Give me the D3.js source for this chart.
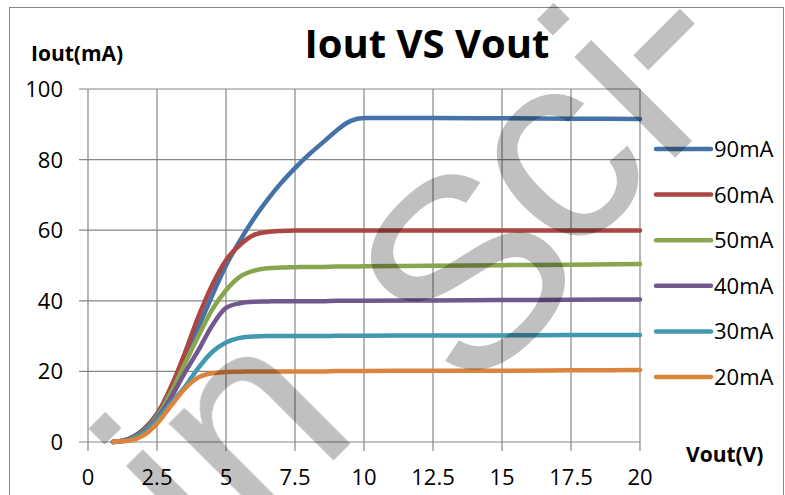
<!DOCTYPE html>
<html>
<head>
<meta charset="utf-8">
<script src="https://cdn.jsdelivr.net/npm/d3@7"></script>
<style>
  body { margin: 0; background: #fff; }
  text { font-family: "Open Sans", Lato, sans-serif; fill: #000; }
</style>
</head>
<body>
<div id="chart"></div>
<script>
const width = 785;
const height = 495;
const margins = { top: 89, bottom: 53, left: 88, right: 145 };

// DATA
const voltages = [0.9, 1.5, 2, 2.5, 3, 3.5, 4, 4.5, 5, 5.5, 6, 6.5, 7, 7.5, 8, 8.5, 9, 9.5, 10, 12.5, 15, 17.5, 20];
const seriesNames = ["90mA", "60mA", "50mA", "40mA", "30mA", "20mA"];
const seriesColors = ["#4572A7", "#AA4643", "#89A54E", "#71588F", "#4198AF", "#DB843D"];
const current90 = [0, 1, 3.5, 8, 15, 23.5, 32.5, 41.5, 50, 57, 63.2, 68.6, 73.4, 77.6, 81.4, 84.8, 88.2, 90.9, 91.8, 91.8, 91.7, 91.6, 91.5];
const current60 = [0, 1, 3.3, 7.7, 15.5, 25, 35.5, 44.5, 51.5, 55.8, 58.6, 59.5, 59.8, 59.9, 59.9, 59.9, 59.9, 59.9, 59.9, 59.9, 59.9, 59.9, 59.9];
const current50 = [0, 0.8, 3, 7.2, 14, 22, 30, 37.5, 43, 46.8, 48.5, 49.2, 49.4, 49.5, 49.6, 49.6, 49.7, 49.7, 49.8, 49.9, 50.1, 50.2, 50.4];
const current40 = [0, 0.7, 2.8, 6.7, 12.5, 19.5, 26, 33, 38, 39.3, 39.7, 39.8, 39.9, 39.9, 39.9, 39.9, 40, 40, 40, 40.1, 40.2, 40.3, 40.4];
const current30 = [0, 0.6, 2.5, 6.2, 11, 15.5, 21, 25.5, 28.2, 29.5, 29.9, 30, 30, 30, 30, 30, 30.1, 30.1, 30.1, 30.2, 30.2, 30.3, 30.3];
const current20 = [0, 0.4, 1.8, 5.2, 10.2, 15, 18.3, 19.5, 19.8, 19.9, 20, 20, 20, 20, 20, 20, 20.1, 20.1, 20.1, 20.2, 20.2, 20.3, 20.4];
const seriesValues = [current90, current60, current50, current40, current30, current20];
const xTicks = [0, 2.5, 5, 7.5, 10, 12.5, 15, 17.5, 20];
const yTicks = [0, 20, 40, 60, 80, 100];

const series = seriesNames.map((name, i) => ({
  name: name,
  color: seriesColors[i],
  points: voltages.map((v, j) => ({ v: v, i: seriesValues[i][j] })),
}));

// SCALES
const xScale = d3.scaleLinear().domain([0, 20]).range([margins.left, width - margins.right]);
const yScale = d3.scaleLinear().domain([0, 100]).range([height - margins.bottom, margins.top]);

const svg = d3
  .select("#chart")
  .append("svg")
  .attr("width", width)
  .attr("height", height);

// OUTER BORDER
svg
  .append("rect")
  .attr("x", 9.5)
  .attr("y", 7.5)
  .attr("width", 774)
  .attr("height", 520)
  .attr("fill", "none")
  .attr("stroke", "#868686");

// GRID + AXES
const grid = svg.append("g").attr("stroke", "#868686").attr("stroke-width", 1.2);

grid
  .selectAll("line.h")
  .data(yTicks)
  .enter()
  .append("line")
  .attr("x1", margins.left - 9)
  .attr("x2", width - margins.right)
  .attr("y1", (d) => yScale(d))
  .attr("y2", (d) => yScale(d));

grid
  .selectAll("line.v")
  .data(xTicks)
  .enter()
  .append("line")
  .attr("x1", (d) => xScale(d))
  .attr("x2", (d) => xScale(d))
  .attr("y1", yScale(100))
  .attr("y2", yScale(0) + 9);

svg
  .selectAll("text.y-label")
  .data(yTicks)
  .enter()
  .append("text")
  .attr("class", "y-label")
  .attr("x", margins.left - 25)
  .attr("y", (d) => yScale(d))
  .attr("dy", "0.36em")
  .attr("text-anchor", "end")
  .style("font-size", "22px")
  .text((d) => d);

svg
  .selectAll("text.x-label")
  .data(xTicks)
  .enter()
  .append("text")
  .attr("class", "x-label")
  .attr("x", (d) => xScale(d))
  .attr("y", 485)
  .attr("text-anchor", "middle")
  .style("font-size", "22px")
  .text((d) => d);

// LINES
const lineGenerator = d3
  .line()
  .x((d) => xScale(d.v))
  .y((d) => yScale(d.i))
  .curve(d3.curveMonotoneX);

svg
  .append("g")
  .selectAll("path")
  .data(series)
  .enter()
  .append("path")
  .attr("d", (d) => lineGenerator(d.points))
  .attr("fill", "none")
  .attr("stroke", (d) => d.color)
  .attr("stroke-width", 4.5)
  .attr("stroke-linecap", "round")
  .attr("stroke-linejoin", "round");

// LEGEND
const legend = svg
  .append("g")
  .selectAll("g")
  .data(series)
  .enter()
  .append("g")
  .attr("transform", (d, i) => `translate(656,${149 + i * 45.6})`);

legend
  .append("line")
  .attr("x1", 0)
  .attr("x2", 55)
  .attr("stroke", (d) => d.color)
  .attr("stroke-width", 4.5)
  .attr("stroke-linecap", "round");

legend
  .append("text")
  .attr("x", 58)
  .attr("dy", "0.36em")
  .style("font-size", "22px")
  .text((d) => d.name);

// TITLES
svg
  .append("text")
  .attr("x", 427)
  .attr("y", 58)
  .attr("text-anchor", "middle")
  .style("font-size", "40px")
  .style("font-weight", "bold")
  .text("Iout VS Vout");

svg
  .append("text")
  .attr("x", 31)
  .attr("y", 61)
  .style("font-size", "21px")
  .style("font-weight", "bold")
  .text("Iout(mA)");

svg
  .append("text")
  .attr("x", 686)
  .attr("y", 462)
  .style("font-size", "21px")
  .style("font-weight", "bold")
  .text("Vout(V)");

// WATERMARK (pieces along one diagonal)
const watermark = svg
  .append("g")
  .style("mix-blend-mode", "multiply");

[
  { t: "hin", x: 108, y: 686 },
  { t: "S", x: 468, y: 401 },
  { t: "ci", x: 567, y: 266 },
  { t: "-", x: 683, y: 122 },
].forEach((p) => {
  watermark
    .append("text")
    .attr("transform", `translate(${p.x},${p.y}) rotate(-45)`)
    .style("font-family", "'Liberation Sans', Arial, sans-serif")
    .style("font-size", "270px")
    .style("fill", "#c0c0c0")
    .text(p.t);
});
</script>
</body>
</html>
